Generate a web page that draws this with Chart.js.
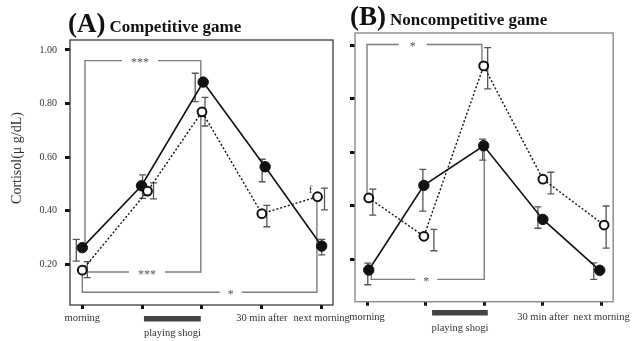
<!DOCTYPE html>
<html>
<head>
<meta charset="utf-8">
<script src="https://cdn.jsdelivr.net/npm/chart.js@4.4.1/dist/chart.umd.min.js"></script>
<style>
  html, body { margin: 0; padding: 0; background: #fff; }
  #wrap { position: relative; width: 636px; height: 341px; }
  #wrap canvas { position: absolute; left: 0; top: 0; }
</style>
</head>
<body>
<div id="wrap">
  <canvas id="panelA" width="636" height="341"></canvas>
  <canvas id="panelB" width="636" height="341"></canvas>
</div>
<script>
// Sampling times (x axis); the two middle samples bracket the game itself
const timePoints = ['morning', '', '', '30 min after', 'next morning'];
const yTickValues = [0.2, 0.4, 0.6, 0.8, 1.0];
const yTickLabels = ['0.20', '0.40', '0.60', '0.80', '1.00'];

// (A) Competitive game: salivary cortisol, µg/dL
const compFilled = [0.262, 0.493, 0.880, 0.564, 0.268];
const compFilledErr = [[0.212, 0.293], [0.446, 0.534], [0.807, 0.913], [0.508, 0.592], [0.235, 0.293]];
const compOpen = [0.178, 0.473, 0.769, 0.389, 0.452];
const compOpenErr = [[0.150, 0.210], [0.444, 0.504], [0.716, 0.823], [0.340, 0.420], [0.403, 0.484]];

// (B) Noncompetitive game: salivary cortisol, µg/dL
const noncompFilled = [0.160, 0.476, 0.624, 0.349, 0.159];
const noncompFilledErr = [[0.105, 0.186], [0.380, 0.536], [0.570, 0.649], [0.316, 0.396], [0.125, 0.187]];
const noncompOpen = [0.429, 0.286, 0.922, 0.499, 0.328];
const noncompOpenErr = [[0.365, 0.462], [0.232, 0.312], [0.836, 0.990], [0.444, 0.525], [0.242, 0.399]];

const SERIF = "'Liberation Serif', 'Times New Roman', 'DejaVu Serif', serif";

// small horizontal nudges so overlapping markers stay readable (x-axis units)
const nudge = {
  compFilled:    [0, -0.01, 0.02, 0.055, 0],
  compOpen:      [0, 0.09, 0, 0, -0.07],
  noncompFilled: [0.03, -0.03, -0.01, 0, -0.03],
  noncompOpen:   [0.03, -0.03, -0.01, 0, 0.045]
};
// error bars sit slightly beside their markers (pixels)
const errOffset = {
  compFilled:    [-6, 1, -8, -3, 0],
  compOpen:      [5, 6, 3, 5, 7],
  noncompFilled: [-1, -1, -1, -5, -6],
  noncompOpen:   [4, 10, 4, 8, 2]
};

function points(values, shift) {
  return values.map((v, i) => ({ x: i + shift[i], y: v }));
}

function filledSet(values, errs, key) {
  return {
    data: points(values, nudge[key]),
    borderColor: '#111', borderWidth: 1.6,
    pointRadius: 5.2, pointBackgroundColor: '#111', pointBorderColor: '#111', pointBorderWidth: 1,
    errRange: errs, errShift: errOffset[key], order: 1
  };
}
function openSet(values, errs, key) {
  return {
    data: points(values, nudge[key]),
    borderColor: '#111', borderWidth: 1.4, borderDash: [2, 2],
    pointRadius: 4.4, pointBackgroundColor: '#fff', pointBorderColor: '#111', pointBorderWidth: 2,
    errRange: errs, errShift: errOffset[key], order: 0
  };
}

// Frame, significance brackets, error bars, panel titles and the "playing shogi" marker
function makeDecor(cfg) {
  return {
    id: 'panelDecor',
    beforeDatasetsDraw(chart) {
      const { ctx, chartArea: a, scales: { x, y } } = chart;
      ctx.save();
      ctx.strokeStyle = cfg.frameColor;
      ctx.lineWidth = cfg.frameWidth;
      ctx.strokeRect(a.left, a.top, a.right - a.left, a.bottom - a.top);

      cfg.brackets.forEach(b => {
        ctx.strokeStyle = '#7d7d7d';
        ctx.lineWidth = 1.4;
        ctx.beginPath();
        b.path.forEach(([px, py], i) => {
          const X = x.getPixelForValue(px), Y = y.getPixelForValue(py);
          if (i) ctx.lineTo(X, Y); else ctx.moveTo(X, Y);
        });
        ctx.stroke();
        const lx = x.getPixelForValue(b.at[0]), ly = y.getPixelForValue(b.at[1]);
        ctx.fillStyle = '#fff';
        ctx.fillRect(lx - b.gap / 2, ly - 3, b.gap, 6);
        ctx.fillStyle = '#555';
        ctx.font = '12px ' + SERIF;
        ctx.textAlign = 'center';
        ctx.textBaseline = 'middle';
        ctx.fillText(b.label, lx, ly + 2.5);
      });

      chart.data.datasets.forEach((ds, di) => {
        const meta = chart.getDatasetMeta(di);
        ctx.strokeStyle = '#555';
        ctx.lineWidth = 1.3;
        ds.errRange.forEach(([lo, hi], i) => {
          const px = meta.data[i].x + ds.errShift[i];
          const yl = y.getPixelForValue(lo), yh = y.getPixelForValue(hi);
          ctx.beginPath();
          ctx.moveTo(px, yl); ctx.lineTo(px, yh);
          ctx.moveTo(px - 3.5, yl); ctx.lineTo(px + 3.5, yl);
          ctx.moveTo(px - 3.5, yh); ctx.lineTo(px + 3.5, yh);
          ctx.stroke();
        });
      });
      ctx.restore();
    },
    afterDraw(chart) {
      const { ctx, chartArea: a, scales: { x, y } } = chart;
      ctx.save();
      ctx.fillStyle = '#111';
      ctx.textAlign = 'left';
      ctx.textBaseline = 'alphabetic';
      ctx.font = 'bold 27px ' + SERIF;
      ctx.fillText(cfg.tag, cfg.titleX, cfg.titleY);
      const w = ctx.measureText(cfg.tag).width;
      ctx.font = 'bold 17px ' + SERIF;
      ctx.fillText(cfg.title, cfg.titleX + w + 4, cfg.titleY);

      if (cfg.yTitle) {
        ctx.save();
        ctx.translate(cfg.yTitle.x, cfg.yTitle.y);
        ctx.rotate(-Math.PI / 2);
        ctx.font = '14px ' + SERIF;
        ctx.fillStyle = '#333';
        ctx.textAlign = 'center';
        ctx.textBaseline = 'middle';
        ctx.fillText(cfg.yTitle.text, 0, 0);
        ctx.restore();
      }

      const x0 = x.getPixelForValue(cfg.game[0]), x1 = x.getPixelForValue(cfg.game[1]);
      ctx.fillStyle = '#444';
      ctx.fillRect(x0, a.bottom + cfg.gameBarTop, x1 - x0, 5.5);
      ctx.fillStyle = '#333';
      ctx.font = '10.5px ' + SERIF;
      ctx.textAlign = 'center';
      ctx.textBaseline = 'middle';
      ctx.fillText('playing shogi', (x0 + x1) / 2, a.bottom + cfg.gameTextY);

      (cfg.notes || []).forEach(n => {
        ctx.font = '11px ' + SERIF;
        ctx.fillStyle = '#333';
        ctx.fillText(n.text, x.getPixelForValue(n.at[0]), y.getPixelForValue(n.at[1]));
      });
      ctx.restore();
    }
  };
}

function makeScales(p) {
  return {
    x: {
      type: 'linear', min: p.xMin, max: p.xMax,
      afterBuildTicks: s => { s.ticks = timePoints.map((_, i) => ({ value: i })); },
      afterFit: s => { s.height = p.xHeight; },
      ticks: {
        callback: (v, i) => timePoints[i],
        font: { family: SERIF, size: 10.5 }, color: '#333',
        padding: p.xPad, maxRotation: 0, autoSkip: false
      },
      grid: { drawOnChartArea: false, tickLength: 4, tickWidth: 3, tickColor: '#111' },
      border: { display: false }
    },
    y: {
      type: 'linear', min: p.yMin, max: p.yMax,
      afterBuildTicks: s => { s.ticks = yTickValues.map(v => ({ value: v })); },
      afterFit: s => { s.width = p.yWidth; },
      ticks: {
        callback: (v, i) => (p.yLabels ? yTickLabels[i] : ''),
        font: { family: SERIF, size: 10 }, color: '#333', padding: 8
      },
      grid: { drawOnChartArea: false, tickLength: 5, tickWidth: 3, tickColor: '#111' },
      border: { display: false }
    }
  };
}

function baseOptions(p) {
  return {
    responsive: false, animation: false, events: [],
    layout: { autoPadding: false, padding: p.padding },
    plugins: { legend: { display: false }, tooltip: { enabled: false }, title: { display: false } },
    scales: makeScales(p)
  };
}

// ---- Panel A ----
new Chart(document.getElementById('panelA'), {
  type: 'line',
  data: { datasets: [
    filledSet(compFilled, compFilledErr, 'compFilled'),
    openSet(compOpen, compOpenErr, 'compOpen')
  ] },
  options: baseOptions({
    xMin: -0.2055, xMax: 4.189, yMin: 0.048, yMax: 1.037,
    xHeight: 36, yWidth: 70, xPad: 3, yLabels: true,
    padding: { left: 0, right: 303, top: 40, bottom: 0 }
  }),
  plugins: [makeDecor({
    frameColor: '#2a2a2a', frameWidth: 1.2,
    tag: '(A)', title: 'Competitive game', titleX: 68, titleY: 32,
    yTitle: { text: 'Cortisol(\u03bc g/dL)', x: 17, y: 158 },
    game: [1.03, 1.98], gameBarTop: 11, gameTextY: 28,
    brackets: [
      { path: [[0.045, 0.262], [0.045, 0.960], [1.98, 0.960], [1.98, 0.880]], label: '***', at: [0.964, 0.960], gap: 36 },
      { path: [[0.08, 0.171], [1.98, 0.171], [1.98, 0.769]], label: '***', at: [1.08, 0.171], gap: 36 },
      { path: [[0, 0.178], [0, 0.0955], [3.92, 0.0955], [3.92, 0.452]], label: '*', at: [2.48, 0.0955], gap: 22 }
    ],
    notes: [{ text: 'f', at: [3.816, 0.477] }]
  })]
});

// ---- Panel B ----
new Chart(document.getElementById('panelB'), {
  type: 'line',
  data: { datasets: [
    filledSet(noncompFilled, noncompFilledErr, 'noncompFilled'),
    openSet(noncompOpen, noncompOpenErr, 'noncompOpen')
  ] },
  options: baseOptions({
    xMin: -0.205, xMax: 4.199, yMin: 0.0418, yMax: 1.0448,
    xHeight: 39.3, yWidth: 355, xPad: 5.6, yLabels: false,
    padding: { left: 0, right: 16.7, top: 33, bottom: 0 }
  }),
  plugins: [makeDecor({
    frameColor: '#8a8a8a', frameWidth: 1.4,
    tag: '(B)', title: 'Noncompetitive game', titleX: 350, titleY: 25,
    game: [1.11, 2.06], gameBarTop: 8.3, gameTextY: 26.6,
    brackets: [
      { path: [[0, 0.429], [0, 1.002], [1.96, 1.002], [1.96, 0.922]], label: '*', at: [0.78, 1.002], gap: 28 },
      { path: [[0.073, 0.16], [0.073, 0.125], [2.0, 0.125], [2.0, 0.624]], label: '*', at: [1.01, 0.125], gap: 22 }
    ]
  })]
});
</script>
</body>
</html>
